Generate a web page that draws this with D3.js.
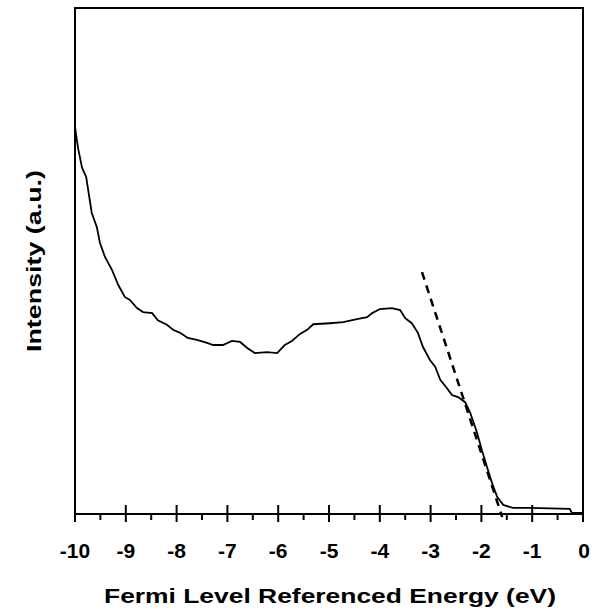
<!DOCTYPE html>
<html>
<head>
<meta charset="utf-8">
<script src="https://cdn.jsdelivr.net/npm/d3@7"></script>
<style>
  html, body { margin: 0; padding: 0; background: #fff; }
  svg { display: block; }
  text { font-family: "Liberation Sans", Arial, sans-serif; font-weight: bold; fill: #000; }
</style>
</head>
<body>
<svg id="chart" width="599" height="614"></svg>
<script>
// Photoemission spectrum (arbitrary intensity units, 0-100)
const energy = [-10.00, -9.94, -9.86, -9.78, -9.67, -9.57, -9.51, -9.41, -9.27, -9.15,
  -9.02, -8.92, -8.78, -8.66, -8.48, -8.37, -8.19, -8.07, -7.93, -7.78,
  -7.60, -7.40, -7.28, -7.09, -6.91, -6.75, -6.61, -6.46, -6.22, -6.02,
  -5.87, -5.73, -5.57, -5.43, -5.31, -4.98, -4.72, -4.45, -4.25, -4.15,
  -4.00, -3.76, -3.60, -3.50, -3.37, -3.25, -3.15, -3.01, -2.91, -2.81,
  -2.68, -2.58, -2.46, -2.32, -2.22, -2.09, -1.99, -1.89, -1.79, -1.69,
  -1.57, -1.38, -1.04, -0.26, -0.22, 0.00];
const intensity = [76.5, 72.3, 68.4, 66.6, 59.5, 56.7, 53.6, 50.8, 48.2, 45.3,
  42.9, 42.3, 40.7, 39.9, 39.7, 38.3, 37.4, 36.4, 35.8, 34.8,
  34.4, 33.8, 33.4, 33.4, 34.2, 34.0, 32.8, 31.8, 32.0, 31.8,
  33.4, 34.2, 35.6, 36.4, 37.5, 37.7, 37.9, 38.5, 38.9, 39.7,
  40.5, 40.7, 40.3, 38.7, 37.7, 35.8, 33.0, 30.4, 29.1, 26.5,
  24.9, 23.5, 23.1, 22.1, 20.0, 16.2, 12.6, 9.3, 6.1, 3.4,
  1.8, 1.2, 1.2, 1.0, 0.2, 0.2];
// Linear extrapolation of the leading edge (dashed)
const edgeEnergy = [-3.17, -1.59];
const edgeIntensity = [47.8, -0.6];
const xTicks = [-10, -9, -8, -7, -6, -5, -4, -3, -2, -1, 0];
const xMinorTicks = [-9.5, -8.5, -7.5, -6.5, -5.5, -4.5, -3.5, -2.5, -1.5, -0.5];
const xTitle = "Fermi Level Referenced Energy (eV)";
const yTitle = "Intensity (a.u.)";

(function () {
const svg = d3.select("#chart");
const mL = 75, mR = 583, mT = 8, mB = 514;

const x = d3.scaleLinear().domain([-10, 0]).range([mL, mR]);
const y = d3.scaleLinear().domain([0, 100]).range([mB, mT]);

// frame (left, top, right)
svg.append("path")
  .attr("d", `M${mL},${mB} V${mT} H${mR} V${mB}`)
  .attr("fill", "none").attr("stroke", "#000").attr("stroke-width", 2);

// x axis line
svg.append("line")
  .attr("x1", mL).attr("x2", mR).attr("y1", mB).attr("y2", mB)
  .attr("stroke", "#000").attr("stroke-width", 2);

// major ticks (crossing)
svg.append("g").selectAll("line").data(xTicks).join("line")
  .attr("x1", d => x(d)).attr("x2", d => x(d))
  .attr("y1", mB - 9).attr("y2", mB + 8)
  .attr("stroke", "#000").attr("stroke-width", 2);

// minor ticks (outside)
svg.append("g").selectAll("line").data(xMinorTicks).join("line")
  .attr("x1", d => x(d)).attr("x2", d => x(d))
  .attr("y1", mB).attr("y2", mB + 6)
  .attr("stroke", "#000").attr("stroke-width", 2);

// tick labels
svg.append("g").selectAll("text").data(xTicks).join("text")
  .attr("x", d => x(d) + (d === 0 ? 1 : 0)).attr("y", 558)
  .attr("text-anchor", "middle")
  .attr("font-size", 21)
  .text(d => d);

// spectrum
const pts = energy.map((e, i) => [e, intensity[i]]);
svg.append("path")
  .datum(pts)
  .attr("d", d3.line().x(d => x(d[0])).y(d => y(d[1])))
  .attr("fill", "none").attr("stroke", "#000").attr("stroke-width", 1.8);

// dashed edge fit
const edge = edgeEnergy.map((e, i) => [e, edgeIntensity[i]]);
svg.append("path")
  .datum(edge)
  .attr("d", d3.line().x(d => x(d[0])).y(d => y(d[1])))
  .attr("fill", "none").attr("stroke", "#000").attr("stroke-width", 2.5)
  .attr("stroke-dasharray", "8,6");

// axis titles
svg.append("text")
  .attr("x", (mL + mR) / 2 + 1).attr("y", 603)
  .attr("text-anchor", "middle").attr("font-size", 20)
  .attr("textLength", 452).attr("lengthAdjust", "spacingAndGlyphs")
  .text(xTitle);

svg.append("text")
  .attr("transform", `translate(41,${(mT + mB) / 2}) rotate(-90)`)
  .attr("text-anchor", "middle").attr("font-size", 21)
  .attr("textLength", 182).attr("lengthAdjust", "spacingAndGlyphs")
  .text(yTitle);
})();
</script>
</body>
</html>
